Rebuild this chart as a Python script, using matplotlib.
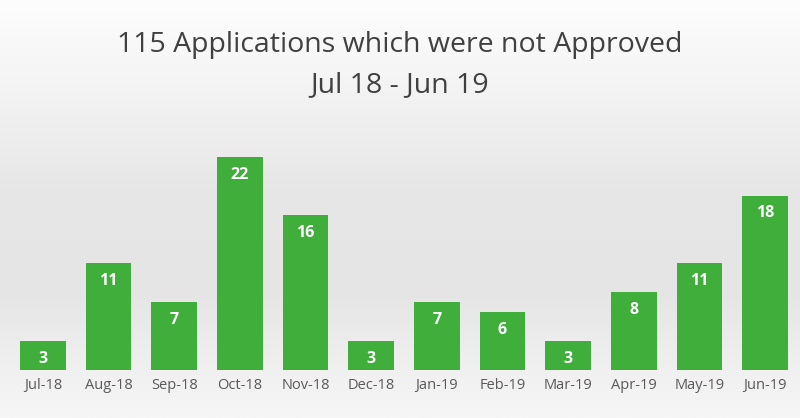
import matplotlib
matplotlib.use('Agg')
import matplotlib.pyplot as plt
from matplotlib.colors import LinearSegmentedColormap
import numpy as np

months = ['Jul-18', 'Aug-18', 'Sep-18', 'Oct-18', 'Nov-18', 'Dec-18',
          'Jan-19', 'Feb-19', 'Mar-19', 'Apr-19', 'May-19', 'Jun-19']
counts = [3, 11, 7, 22, 16, 3, 7, 6, 3, 8, 11, 18]

plt.rcParams['font.family'] = ['Open Sans', 'DejaVu Sans']

fig = plt.figure(figsize=(8, 4.18), dpi=100)

# soft grey backdrop, white on top, greyer through the middle
bg = fig.add_axes([0, 0, 1, 1], zorder=0)
grad = LinearSegmentedColormap.from_list('bg', [
    (0.0, '#f6f6f6'), (0.12, '#f0f0f0'), (0.3, '#e5e5e5'),
    (0.55, '#e7e7e7'), (0.8, '#f4f4f4'), (1.0, '#fdfdfd')])
bg.imshow(np.linspace(0, 1, 256).reshape(-1, 1), aspect='auto', cmap=grad,
          extent=[0, 1, 0, 1], origin='lower')
bg.set_axis_off()

ax = fig.add_axes([0.0125, 0.115, 0.985, 0.5096], zorder=1)
ax.patch.set_alpha(0)
x = np.arange(len(months))
bars = ax.bar(x, counts, width=0.7, color='#3fae3a', zorder=2)
for b, v in zip(bars, counts):
    ax.text(b.get_x() + b.get_width() / 2, v - 1.0, str(v), ha='center', va='top',
            color='white', fontsize=11.5, fontweight='bold', zorder=3)

ax.set_xlim(-0.5, len(months) - 0.5)
ax.set_ylim(0, 22)
ax.set_xticks(x)
ax.set_xticklabels(months, fontsize=10.5, color='#595959')
ax.tick_params(axis='x', length=0, pad=6)
ax.set_yticks([])
for s in ax.spines.values():
    s.set_visible(False)

fig.text(0.5, 0.892, '115 Applications which were not Approved', ha='center', va='center',
         fontsize=20.5, color='#404040')
fig.text(0.5, 0.797, 'Jul 18 - Jun 19', ha='center', va='center',
         fontsize=20.5, color='#404040')

fig.savefig('out.png', dpi=100)
